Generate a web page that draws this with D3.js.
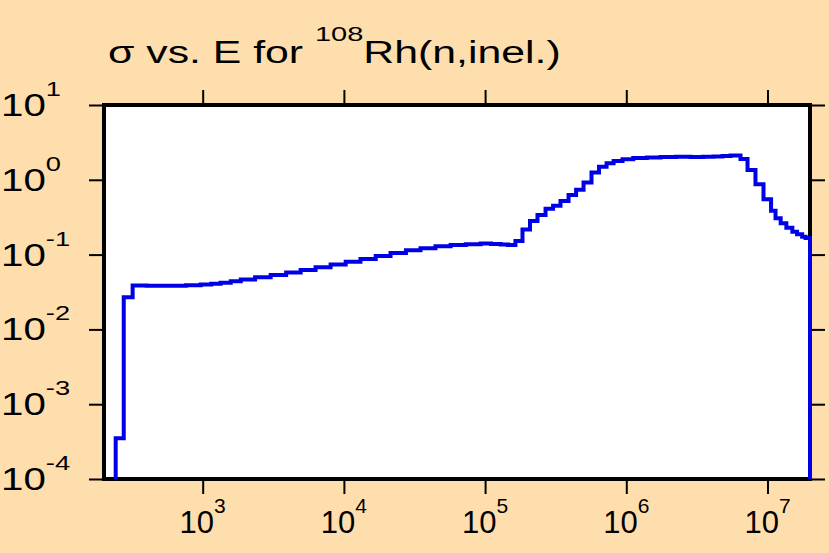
<!DOCTYPE html>
<html>
<head>
<meta charset="utf-8">
<script src="https://cdn.jsdelivr.net/npm/d3@7"></script>
<style>
  html, body { margin: 0; padding: 0; background: #FFDEAD; }
  svg { display: block; }
  text { font-family: "Liberation Sans", Arial, sans-serif; fill: #000; }
</style>
</head>
<body>
<script>
// ---- data ----
const energies = [242, 276, 319, 400, 500, 620, 760, 968, 1150, 1340, 1580, 1860, 2350, 3030, 3900, 4940, 6300, 8050,
  1.03e4, 1.31e4, 1.68e4, 2.14e4, 2.75e4, 3.49e4, 4.45e4, 5.70e4, 7.30e4, 9.30e4, 1.10e5, 1.29e5, 1.45e5,
  1.64e5, 1.84e5, 2.08e5, 2.35e5, 2.68e5, 3.03e5, 3.42e5, 3.90e5, 4.41e5, 4.98e5, 5.67e5, 6.41e5, 7.25e5, 8.13e5, 9.40e5,
  1.12e6, 1.40e6, 1.75e6, 2.25e6, 2.85e6, 3.50e6, 4.15e6, 4.80e6, 5.47e6, 6.44e6, 7.22e6, 8.22e6, 9.37e6,
  1.06e7, 1.14e7, 1.24e7, 1.36e7, 1.50e7, 1.62e7, 1.76e7, 1.86e7];
const sigma = [3.5e-4, 0.027, 0.0386, 0.0384, 0.0383, 0.0384, 0.0388, 0.0398, 0.0409, 0.0421, 0.0441, 0.0464, 0.0497, 0.0533, 0.0577, 0.0622, 0.0678, 0.0737,
  0.0805, 0.0873, 0.0960, 0.105, 0.114, 0.122, 0.129, 0.134, 0.138, 0.141, 0.139, 0.136, 0.134,
  0.152, 0.217, 0.281, 0.338, 0.409, 0.451, 0.521, 0.627, 0.738, 0.921, 1.25, 1.50, 1.66, 1.78, 1.88,
  1.95, 1.99, 2.02, 2.03, 2.02, 2.03, 2.05, 2.08, 2.11, 1.90, 1.35, 0.871, 0.548,
  0.386, 0.306, 0.262, 0.229, 0.202, 0.187, 0.173, 0.167];
const xDomain = [200, 2e7];
const yDomain = [1e-4, 10];
const xTicks = [1e3, 1e4, 1e5, 1e6, 1e7];
const xTickExp = ["3", "4", "5", "6", "7"];
const yTicks = [1e-4, 1e-3, 1e-2, 1e-1, 1e0, 1e1];
const yTickExp = ["-4", "-3", "-2", "-1", "0", "1"];
const titleParts = ["σ vs. E for ", "108", "Rh(n,inel.)"];

// ---- layout ----
const W = 829, H = 553;
const L = 104, R = 810, T = 105, B = 479;

const svg = d3.select("body").append("svg").attr("width", W).attr("height", H);
svg.append("rect").attr("width", W).attr("height", H).attr("fill", "#FFDEAD");

const x = d3.scaleLog().domain(xDomain).range([L, R]);
const y = d3.scaleLog().domain(yDomain).range([B, T]);

// plot area
svg.append("rect").attr("x", L).attr("y", T).attr("width", R - L).attr("height", B - T).attr("fill", "#fff");

// axes (ticks only)
function styleAxis(g) {
  g.select(".domain").remove();
  g.selectAll(".tick line").attr("stroke", "#000").attr("stroke-width", 2);
  g.selectAll(".tick text").remove();
}
svg.append("g").attr("transform", `translate(0,${B})`)
  .call(d3.axisBottom(x).tickValues(xTicks).tickSize(15).tickFormat("")).call(styleAxis);
svg.append("g").attr("transform", `translate(0,${T})`)
  .call(d3.axisTop(x).tickValues(xTicks).tickSize(15).tickFormat("")).call(styleAxis);
svg.append("g").attr("transform", `translate(${L},0)`)
  .call(d3.axisLeft(y).tickValues(yTicks).tickSize(15).tickFormat("")).call(styleAxis);
svg.append("g").attr("transform", `translate(${R},0)`)
  .call(d3.axisRight(y).tickValues(yTicks).tickSize(15).tickFormat("")).call(styleAxis);

// frame
svg.append("rect").attr("x", L).attr("y", T).attr("width", R - L).attr("height", B - T)
  .attr("fill", "none").attr("stroke", "#000").attr("stroke-width", 4);

// x tick labels
xTicks.forEach((v, i) => {
  const t = svg.append("text").attr("x", x(v)).attr("y", 533).attr("text-anchor", "middle");
  t.append("tspan").attr("font-size", 31).text("10");
  t.append("tspan").attr("font-size", 21).attr("dy", -20).text(xTickExp[i]);
});
// y tick labels (horizontally widened as in the reference)
const ySx = 1.3;
const yLab = svg.append("g").attr("transform", `translate(1,0) scale(${ySx},1)`);
yTicks.forEach((v, i) => {
  const t = yLab.append("text").attr("x", 0).attr("y", y(v) + 11).attr("text-anchor", "start");
  t.append("tspan").attr("font-size", 31).text("10");
  t.append("tspan").attr("font-size", 21).attr("dy", -20).text(yTickExp[i]);
});

// title (horizontally widened as in the reference)
const tSx = 1.38;
const tg = svg.append("g").attr("transform", `translate(108,63) scale(${tSx},1)`);
const tt = tg.append("text").attr("x", 0).attr("y", 0);
tt.append("tspan").attr("font-size", 31).text(titleParts[0]);
tt.append("tspan").attr("font-size", 21).attr("dy", -22).text(titleParts[1]);
tt.append("tspan").attr("font-size", 31).attr("dy", 22).text(titleParts[2]);

// step line
const pts = [[energies[0], yDomain[0]]].concat(energies.map((e, i) => [e, sigma[i]]));
pts.push([xDomain[1], yDomain[0]]);
const line = d3.line().x(d => x(d[0])).y(d => y(d[1])).curve(d3.curveStepAfter);
svg.append("path").attr("d", line(pts)).attr("fill", "none")
  .attr("stroke", "#0000e6").attr("stroke-width", 4).attr("stroke-linejoin", "miter");
</script>
</body>
</html>
